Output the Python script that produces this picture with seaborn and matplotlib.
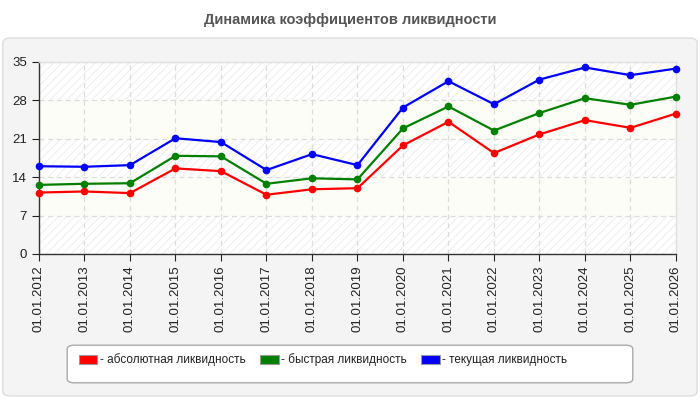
import pandas as pd
import seaborn as sns
import matplotlib.pyplot as plt
from matplotlib.patches import FancyBboxPatch, Patch

sns.set_style("white")
plt.rcParams['font.family'] = ['Liberation Sans', 'DejaVu Sans']
plt.rcParams['hatch.linewidth'] = 0.6

dates = ['01.01.2012', '01.01.2013', '01.01.2014', '01.01.2015', '01.01.2016',
         '01.01.2017', '01.01.2018', '01.01.2019', '01.01.2020', '01.01.2021',
         '01.01.2022', '01.01.2023', '01.01.2024', '01.01.2025', '01.01.2026']
absolute = [11.2, 11.4, 11.1, 15.6, 15.1, 10.8, 11.8, 12.0, 19.8, 24.1,
            18.4, 21.8, 24.4, 23.0, 25.6]
quick = [12.6, 12.8, 12.9, 17.9, 17.8, 12.8, 13.8, 13.6, 22.9, 26.9,
         22.5, 25.7, 28.4, 27.2, 28.7]
current = [16.0, 15.9, 16.2, 21.1, 20.4, 15.3, 18.2, 16.2, 26.7, 31.5,
           27.3, 31.8, 34.0, 32.6, 33.8]

names = ['- абсолютная ликвидность', '- быстрая ликвидность', '- текущая ликвидность']
colors = ['#ff0000', '#008000', '#0000ff']

rows = []
for name, vals in zip(names, [absolute, quick, current]):
    for i, v in enumerate(vals):
        rows.append({'idx': i, 'value': v, 'series': name})
df = pd.DataFrame(rows)

fig = plt.figure(figsize=(7, 4), dpi=100, facecolor='white')
panel = FancyBboxPatch((0.004, 0.01), 0.992, 0.895, boxstyle="round,pad=0,rounding_size=0.012",
                       transform=fig.transFigure, facecolor='#f4f4f4', edgecolor='#dddddd',
                       lw=1, zorder=-10)
fig.patches.append(panel)
fig.text(0.5, 0.95, 'Динамика коэффициентов ликвидности', ha='center', va='center',
         fontsize=10.5, fontweight='bold', color='#555555')

ax = fig.add_axes([0.0557, 0.365, 0.91, 0.48])
ax.set_zorder(2)
ax.set_facecolor('white')
for k, lo in enumerate(range(0, 35, 7)):
    if k % 2 == 0:
        ax.axhspan(lo, lo + 7, facecolor='white', edgecolor='#ececec', hatch='////', lw=0, zorder=0)
    else:
        ax.axhspan(lo, lo + 7, facecolor='#fdfdf7', lw=0, zorder=0)

sns.lineplot(data=df, x='idx', y='value', hue='series', palette=colors, marker='o',
             markersize=5.5, markeredgewidth=0, linewidth=1.6, ax=ax, legend=False, zorder=3)
for line in ax.lines:
    line.set_clip_on(False)

ax.set_xlim(0, len(dates) - 1)
ax.set_ylim(0, 35)
ax.set_xticks(range(len(dates)))
ax.set_xticklabels(dates, rotation=90, fontsize=9.5, color='#222222')
ax.set_yticks(range(0, 36, 7))
ax.tick_params(axis='y', labelsize=9.5, colors='#222222', length=5, direction='out', left=True)
ax.tick_params(axis='x', length=5, direction='out', bottom=True)
ax.set_xlabel('')
ax.set_ylabel('')
ax.grid(True, color='#dddddd', linestyle=(0, (4, 3)), linewidth=0.9, zorder=1)
ax.set_axisbelow(True)
for s in ['left', 'bottom']:
    ax.spines[s].set_color('#333333')
    ax.spines[s].set_linewidth(1)
for s in ['top', 'right']:
    ax.spines[s].set_color('#e0e0e0')
    ax.spines[s].set_linewidth(1)

box = FancyBboxPatch((0.096, 0.043), 0.808, 0.094, boxstyle="round,pad=0,rounding_size=0.01",
                     transform=fig.transFigure, facecolor='white', edgecolor='#aaaaaa', lw=1, zorder=1)
fig.patches.append(box)
handles = [Patch(facecolor=c, edgecolor='#999999', lw=0.8) for c in colors]
fig.legend(handles, names, loc='center left', bbox_to_anchor=(0.097, 0.1), ncol=3, frameon=False,
           fontsize=8.5, handlelength=1.6, handleheight=0.8, handletextpad=0.2, columnspacing=1.2,
           labelcolor='#222222')

fig.savefig('out.png', dpi=100, facecolor='white')
